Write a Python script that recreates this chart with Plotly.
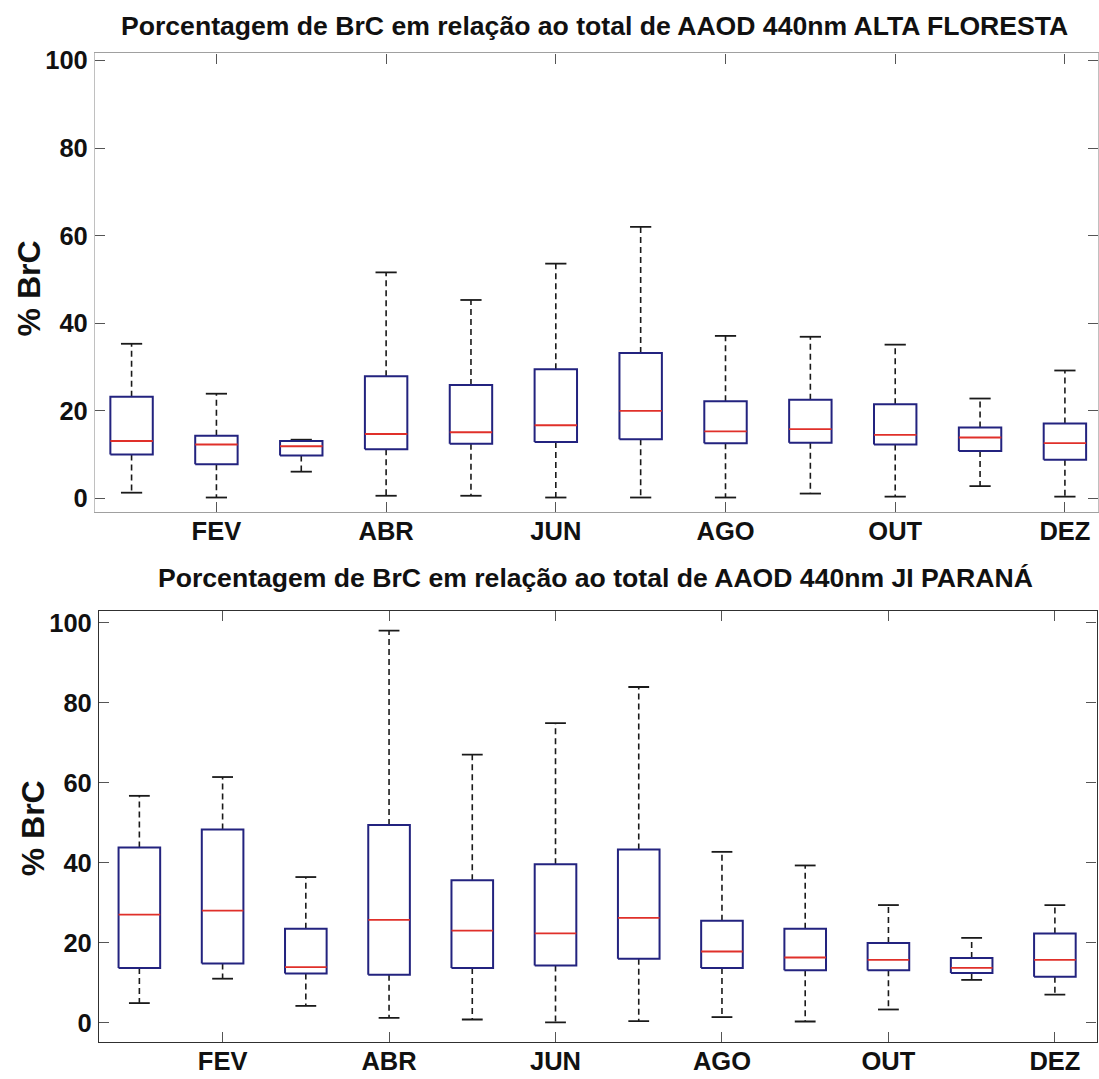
import plotly.graph_objects as go

months = ["JAN", "FEV", "MAR", "ABR", "MAI", "JUN", "JUL", "AGO", "SET", "OUT", "NOV", "DEZ"]
tick_months = ["FEV", "ABR", "JUN", "AGO", "OUT", "DEZ"]
y_ticks = [0, 20, 40, 60, 80, 100]

# Alta Floresta
af_lower = [1.3, 0.2, 6.1, 0.6, 0.6, 0.2, 0.2, 0.2, 1.1, 0.4, 2.8, 0.4]
af_q1 = [10.0, 7.8, 9.8, 11.2, 12.5, 12.9, 13.5, 12.6, 12.7, 12.3, 10.8, 8.8]
af_med = [13.1, 12.3, 11.9, 14.7, 15.1, 16.7, 20.0, 15.3, 15.8, 14.5, 13.9, 12.6]
af_q3 = [23.2, 14.3, 13.1, 27.9, 25.9, 29.5, 33.2, 22.2, 22.5, 21.5, 16.2, 17.1]
af_upper = [35.3, 23.9, 13.4, 51.6, 45.3, 53.6, 62.0, 37.1, 36.9, 35.1, 22.8, 29.2]

# Ji Parana
jp_lower = [4.9, 11.0, 4.2, 1.2, 0.8, 0.1, 0.4, 1.4, 0.3, 3.3, 10.7, 7.0]
jp_q1 = [13.7, 14.8, 12.3, 12.0, 13.7, 14.3, 16.0, 13.7, 13.1, 13.1, 12.4, 11.5]
jp_med = [27.0, 28.0, 13.9, 25.7, 23.0, 22.3, 26.2, 17.8, 16.3, 15.7, 13.7, 15.7]
jp_q3 = [43.8, 48.3, 23.5, 49.4, 35.6, 39.6, 43.3, 25.5, 23.5, 19.9, 16.2, 22.3]
jp_upper = [56.7, 61.4, 36.4, 98.0, 67.0, 74.9, 83.9, 42.7, 39.3, 29.4, 21.2, 29.4]

title_af = "Porcentagem de BrC em relação ao total de AAOD 440nm ALTA FLORESTA"
title_jp = "Porcentagem de BrC em relação ao total de AAOD 440nm JI PARANÁ"
ylabel = "% BrC"

W, H = 1099, 1079
FONT = "Liberation Sans, Arial, sans-serif"
BOX_C = "#23237f"
MED_C = "#e0302a"
WHISK_C = "#1a1a1a"
HALF = 0.25
CAP = 0.125

fig = go.Figure()


def add_boxes(lower, q1, med, q3, upper, xa, ya):
    wx, wy, cx, cy, bx, by, mx, my = [], [], [], [], [], [], [], []
    for i in range(len(months)):
        p = i + 1
        wx += [p, p, None, p, p, None]
        wy += [q3[i], upper[i], None, q1[i], lower[i], None]
        cx += [p - CAP, p + CAP, None, p - CAP, p + CAP, None]
        cy += [upper[i], upper[i], None, lower[i], lower[i], None]
        bx += [p - HALF, p + HALF, p + HALF, p - HALF, p - HALF, None]
        by += [q1[i], q1[i], q3[i], q3[i], q1[i], None]
        mx += [p - HALF, p + HALF, None]
        my += [med[i], med[i], None]
    common = dict(xaxis=xa, yaxis=ya, mode="lines", hoverinfo="skip", showlegend=False)
    fig.add_trace(go.Scatter(x=wx, y=wy, line=dict(color=WHISK_C, width=1.6, dash="6px,4px"), **common))
    fig.add_trace(go.Scatter(x=cx, y=cy, line=dict(color=WHISK_C, width=1.8), **common))
    fig.add_trace(go.Scatter(x=bx, y=by, line=dict(color=BOX_C, width=2), **common))
    fig.add_trace(go.Scatter(x=mx, y=my, line=dict(color=MED_C, width=1.8), **common))


add_boxes(af_lower, af_q1, af_med, af_q3, af_upper, "x", "y")
add_boxes(jp_lower, jp_q1, jp_med, jp_q3, jp_upper, "x2", "y2")

tickfont = dict(family=FONT, size=25.5, color="#111", weight="bold")


def xaxis(dom, rng, linecol):
    return dict(domain=dom, range=rng, tickvals=[2, 4, 6, 8, 10, 12], ticktext=tick_months,
                ticks="inside", ticklen=10, tickwidth=1, tickcolor="#555",
                showline=True, linecolor=linecol, linewidth=1.2, mirror="all",
                showgrid=False, zeroline=False, tickfont=tickfont, ticklabelstandoff=-4,
                automargin=False, fixedrange=True)


def yaxis(dom, rng, linecol):
    return dict(domain=dom, range=rng, tickvals=y_ticks,
                ticks="inside", ticklen=10, tickwidth=1, tickcolor="#555",
                showline=True, linecolor=linecol, linewidth=1.2, mirror="all",
                showgrid=False, zeroline=False, tickfont=tickfont, ticklabelstandoff=1,
                automargin=False, fixedrange=True)


def px_x(p):
    return p / W


def px_y(p):
    return 1 - p / H


fig.update_layout(
    width=W, height=H,
    margin=dict(l=0, r=0, t=0, b=0),
    paper_bgcolor="white", plot_bgcolor="white",
    xaxis=xaxis([px_x(95), px_x(1098)], [0.569, 12.39], "#a0a0a0"),
    yaxis=yaxis([px_y(512.4), px_y(53.4)], [-3.2, 101.6], "#c0c0c0"),
    xaxis2=dict(anchor="y2", **xaxis([px_x(99), px_x(1096.5)], [0.515, 12.5], "#303030")),
    yaxis2=dict(anchor="x2", **yaxis([px_y(1042.3), px_y(610.6)], [-4.9, 103.0], "#303030")),
)
fig.layout.xaxis.anchor = "y"
fig.layout.yaxis.anchor = "x"

ann_font = dict(family=FONT, size=26.6, color="#111", weight="bold")
fig.add_annotation(text=title_af, x=px_x(594.5), y=px_y(26), xref="paper", yref="paper",
                   xanchor="center", yanchor="middle", showarrow=False, font=ann_font)
fig.add_annotation(text=title_jp, x=px_x(595.7), y=px_y(577.5), xref="paper", yref="paper",
                   xanchor="center", yanchor="middle", showarrow=False, font=ann_font)
yl_font = dict(family=FONT, size=32, color="#111", weight="bold")
fig.add_annotation(text=ylabel, x=px_x(29), y=px_y(288.4), xref="paper", yref="paper",
                   xanchor="center", yanchor="middle", showarrow=False, textangle=-90, font=yl_font)
fig.add_annotation(text=ylabel, x=px_x(32.8), y=px_y(828.5), xref="paper", yref="paper",
                   xanchor="center", yanchor="middle", showarrow=False, textangle=-90, font=yl_font)

fig.write_html("out.html")
